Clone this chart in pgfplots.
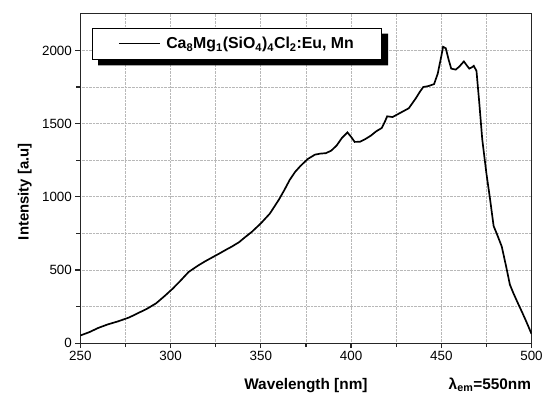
\documentclass[border=0pt]{standalone}
\usepackage{fontspec}
\setmainfont{Liberation Sans}
\usepackage{pgfplots}
\pgfplotsset{compat=1.18}
\begin{document}
\begin{tikzpicture}
\begin{axis}[
  scale only axis, width=455pt, height=332pt,
  xmin=250, xmax=500, ymin=0, ymax=2250,
  xtick={250,300,...,500}, minor xtick={275,325,...,475},
  ytick={0,500,...,2000}, minor ytick={250,750,...,1750},
  grid=both,
  major grid style={densely dotted, black!28, line width=0.8pt},
  minor grid style={densely dotted, black!28, line width=0.8pt},
  tick align=outside, xtick pos=bottom, ytick pos=left,
  major tick length=5pt, minor tick length=4pt,
  axis line style={line width=1.2pt, black!85},
  every tick/.style={line width=1.2pt, black!85},
  ticklabel style={font=\fontsize{13.5}{15}\selectfont},
  /pgf/number format/assume math mode=true,
  /pgf/number format/1000 sep={},
  xlabel={Wavelength [nm]},
  xlabel style={at={(axis description cs:0.5,0)}, anchor=base, yshift=-47pt, font=\fontsize{15.5}{17}\selectfont\bfseries},
  ylabel={Intensity [a.u]},
  ylabel style={at={(axis description cs:-0.123,0.46)}, anchor=center, font=\fontsize{15}{17}\selectfont\bfseries},
  legend style={at={(axis description cs:0.026,0.958)}, anchor=north west,
    draw=black, line width=0.8pt, fill=white, name=leg,
    font=\fontsize{16}{18}\selectfont\bfseries, inner xsep=26pt, inner ysep=7pt},
  legend cell align=left,
  legend image code/.code={\draw[#1, line width=1.2pt] (0pt,0pt) -- (42pt,0pt); \path (45pt,0pt);},
]
\addplot[black, line width=1.7pt] coordinates {
(250,52) (255,75) (260,104) (265,127) (271,149) (277,175) (282,205) (287,235)
(292,272) (297,325) (301,370) (305,420) (310,486) (315,528) (319,558) (323,585)
(327,612) (331,640) (334,660) (338,690) (341,721) (345,760) (350,818) (355,885)
(360,980) (363,1045) (366,1115) (369,1170) (372,1211) (376,1258) (380,1288)
(383,1295) (386,1298) (389,1315) (392,1350) (395,1403) (398,1440) (400,1410)
(402,1375) (405,1376) (408,1395) (411,1418) (414,1448) (417,1470) (419,1520)
(420,1550) (423,1545) (426,1565) (429,1585) (432,1605) (434,1640) (436,1675)
(438,1715) (440,1750) (443,1757) (446,1770) (448,1840) (450,1960) (451,2025)
(452.5,2015) (454,1940) (455.5,1876) (458,1869) (460,1890) (462.5,1925)
(464,1900) (465.5,1876) (467,1885) (468,1895) (469.5,1860) (471,1650)
(472.7,1392) (475,1160) (477,986) (479,800) (481,740) (483.5,660) (486,520)
(488,400) (490,340) (492,285) (495,205) (497,150) (500,63)
};
\addlegendentry{Ca\textsubscript{8}Mg\textsubscript{1}(SiO\textsubscript{4})\textsubscript{4}Cl\textsubscript{2}:Eu, Mn}
\coordinate (sw) at (rel axis cs:0,0);
\end{axis}
\fill[black] ([yshift=-6pt]leg.north east) -- ([shift={(6pt,-6pt)}]leg.north east)
  -- ([shift={(6pt,-6pt)}]leg.south east) -- ([shift={(6pt,-6pt)}]leg.south west)
  -- ([xshift=6pt]leg.south west) -- (leg.south east) -- cycle;
\node[anchor=base, font=\fontsize{15.5}{17}\selectfont\bfseries] at ([shift={(413pt,-47pt)}]sw) {λ\textsubscript{em}=550nm};
\path (sw) ++(-81pt,-53pt) rectangle ++(546pt,399pt);
\end{tikzpicture}
\end{document}
